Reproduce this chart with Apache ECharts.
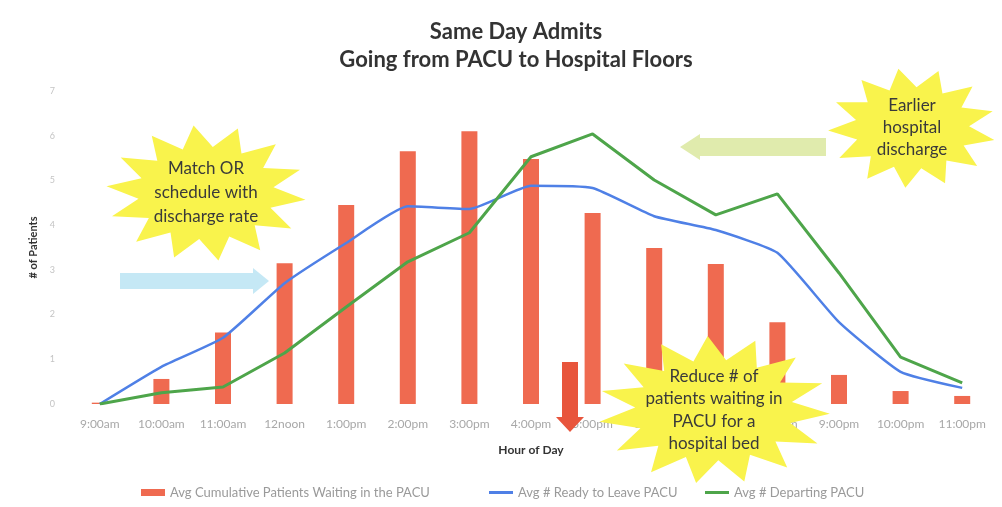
<!DOCTYPE html>
<html>
<head>
<meta charset="utf-8">
<script src="https://cdn.jsdelivr.net/npm/echarts@6/dist/echarts.min.js"></script>
<style>
  html, body { margin: 0; padding: 0; background: #ffffff; }
  #chart { width: 1002px; height: 507px; }
</style>
</head>
<body>
<div id="chart"></div>
<script>
// Hour-of-day categories and the three averaged series
const hours = ['9:00am', '10:00am', '11:00am', '12noon', '1:00pm', '2:00pm', '3:00pm', '4:00pm',
               '5:00pm', '6:00pm', '7:00pm', '8:00pm', '9:00pm', '10:00pm', '11:00pm'];
const waitingInPacu = [0.03, 0.56, 1.6, 3.15, 4.45, 5.65, 6.1, 5.48, 4.27, 3.49, 3.13, 1.83, 0.65, 0.29, 0.18];
const readyToLeave  = [0, 0.83, 1.48, 2.7, 3.6, 4.42, 4.36, 4.88, 4.83, 4.2, 3.89, 3.38, 1.83, 0.72, 0.36];
const departing     = [0, 0.25, 0.38, 1.14, 2.17, 3.18, 3.83, 5.53, 6.04, 5.01, 4.23, 4.7, 2.93, 1.05, 0.47];
const seriesNames = ['Avg Cumulative Patients Waiting in the PACU', 'Avg # Ready to Leave PACU', 'Avg # Departing PACU'];

const RED = '#ef6a50', BLUE = '#4f80e6', GREEN = '#4ea54a';
const STAR = '#f9f34c';
const FONT = 'Lato, "Open Sans", sans-serif';

// jagged "explosion" outline used behind the callout text
function starPoints(cx, cy, rx, ry, spikes, inner, rot) {
  const pts = [];
  for (let i = 0; i < spikes * 2; i++) {
    const a = rot + Math.PI * i / spikes;
    const k = i % 2 === 0 ? 1 : inner;
    pts.push([cx + Math.cos(a) * rx * k, cy + Math.sin(a) * ry * k]);
  }
  return pts;
}

function callout(cx, cy, rx, ry, spikes, rot, text, lineH) {
  return [
    { type: 'polygon', z: 100, shape: { points: starPoints(cx, cy, rx, ry, spikes, 0.68, rot) },
      style: { fill: STAR } },
    { type: 'text', z: 101, x: cx, y: cy,
      style: { text: text, fill: '#3a3a3a', font: '17px ' + FONT, align: 'center',
               verticalAlign: 'middle', lineHeight: lineH } }
  ];
}

const legendText = { color: '#9a9a9a', fontSize: 13, fontFamily: FONT };

const chart = echarts.init(document.getElementById('chart'));
chart.setOption({
  backgroundColor: '#ffffff',
  animation: false,
  title: {
    text: 'Same Day Admits\nGoing from PACU to Hospital Floors',
    left: 511, top: 13, textAlign: 'center',
    textStyle: { fontFamily: FONT, fontSize: 22, fontWeight: 'bold', color: '#333', lineHeight: 28 }
  },
  legend: [
    { data: [seriesNames[0]], left: 136, top: 481, icon: 'rect', itemWidth: 24, itemHeight: 7, itemGap: 4,
      textStyle: legendText },
    { data: [seriesNames[1]], left: 484, top: 481, icon: 'rect', itemWidth: 24, itemHeight: 3,
      textStyle: legendText },
    { data: [seriesNames[2]], left: 700, top: 481, icon: 'rect', itemWidth: 24, itemHeight: 3,
      textStyle: legendText }
  ],
  grid: { left: 69, right: 9, top: 91, bottom: 103, containLabel: false },
  xAxis: {
    type: 'category', data: hours, boundaryGap: true,
    name: 'Hour of Day', nameLocation: 'middle', nameGap: 40,
    nameTextStyle: { fontFamily: FONT, fontSize: 12, fontWeight: 'bold', color: '#333' },
    axisLine: { show: false }, axisTick: { show: false },
    axisLabel: { color: '#a8a8a8', fontSize: 12, fontFamily: FONT, margin: 14, interval: 0 }
  },
  yAxis: {
    type: 'value', min: 0, max: 7, interval: 1,
    name: '# of Patients', nameLocation: 'middle', nameRotate: 90, nameGap: 30,
    nameTextStyle: { fontFamily: FONT, fontSize: 11, fontWeight: 'bold', color: '#333' },
    axisLine: { show: false }, axisTick: { show: false }, splitLine: { show: false },
    axisLabel: { color: '#c4c4c4', fontSize: 9, fontFamily: FONT, margin: 14 }
  },
  series: [
    { name: seriesNames[0], type: 'bar', data: waitingInPacu, barWidth: 16,
      itemStyle: { color: RED } },
    { name: seriesNames[1], type: 'line', data: readyToLeave, symbol: 'none', smooth: 0.15,
      lineStyle: { color: BLUE, width: 2.5 }, itemStyle: { color: BLUE } },
    { name: seriesNames[2], type: 'line', data: departing, symbol: 'none',
      lineStyle: { color: GREEN, width: 3 }, itemStyle: { color: GREEN } }
  ],
  graphic: [
    // light blue arrow pointing right
    { type: 'polygon', z: 90, shape: { points: [[120, 273], [253, 273], [253, 268], [269, 281], [253, 294], [253, 289], [120, 289]] },
      style: { fill: '#bfe6f4', opacity: 0.9 } },
    // pale green arrow pointing left
    { type: 'polygon', z: 90, shape: { points: [[826, 138], [700, 138], [700, 134], [680, 147], [700, 160], [700, 156], [826, 156]] },
      style: { fill: '#dde9a4', opacity: 0.9 } },
    // red arrow pointing down
    { type: 'polygon', z: 90, shape: { points: [[562, 362], [578, 362], [578, 417], [584, 417], [570, 432], [556, 417], [562, 417]] },
      style: { fill: '#e8553c' } },
    ...callout(206, 193, 100, 68, 14, 0.1, 'Match OR\nschedule with\ndischarge rate', 24),
    ...callout(912, 128, 84, 60, 13, 0.2, 'Earlier\nhospital\ndischarge', 22),
    ...callout(714, 410, 116, 74, 15, 0.05, 'Reduce # of\npatients waiting in\nPACU for a\nhospital bed', 22.5)
  ]
});
</script>
</body>
</html>
